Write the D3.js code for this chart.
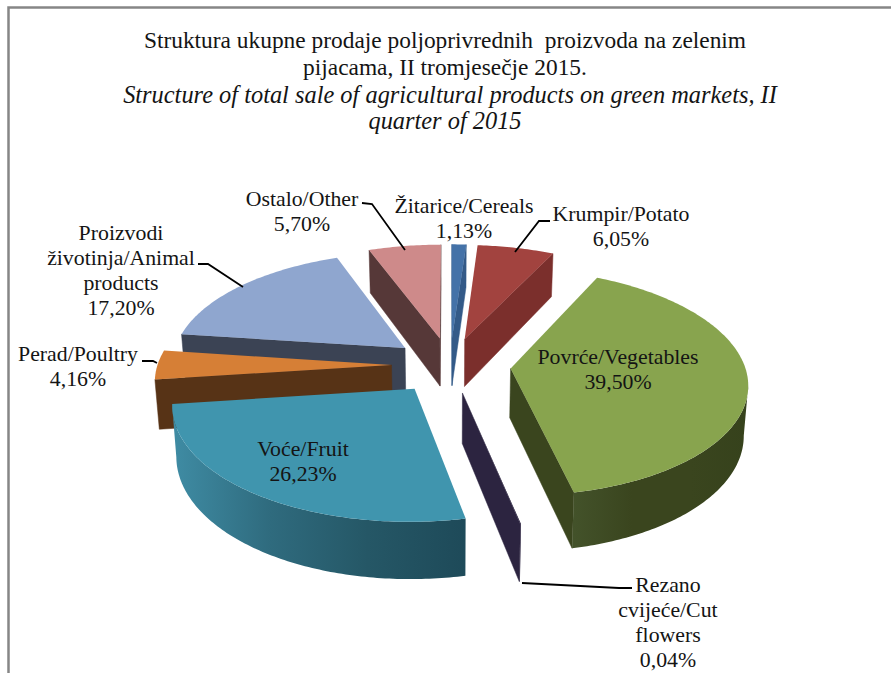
<!DOCTYPE html>
<html><head><meta charset="utf-8">
<script src="https://cdn.jsdelivr.net/npm/d3@7"></script>
<style>html,body{margin:0;padding:0;background:#fff}svg{display:block}text{font-family:"Liberation Serif",serif;fill:#141414}</style>
</head><body><svg id="c" width="891" height="673"></svg>
<script>
const categories=["Žitarice/Cereals","Krumpir/Potato","Povrće/Vegetables","Rezano cvijeće/Cut flowers","Voće/Fruit","Perad/Poultry","Proizvodi životinja/Animal products","Ostalo/Other"];
const values=[1.13,6.05,39.50,0.04,26.23,4.16,17.20,5.70];
const valueLabels=["1,13%","6,05%","39,50%","0,04%","26,23%","4,16%","17,20%","5,70%"];
const topColors=["#4472a8","#a2433f","#88a44e","#2c2440","#4095ae","#d67f36","#8fa6cf","#ce8a8a"];
const wallColors=["#335a88","#7b2f2c","#3a451e","#2c2440","#2f6b7e","#573316","#3b4354","#563838"];
const rimGradients=[null,null,["#43522a","#3a451e","#3a451e","#36421c"],null,["#3f8ca4","#2f6b7e","#255766","#1e4a59"],null,null,null];
const explodes=[0.25,0.25,0.26,0.25,0.255,0.25,0.25,0.25];
const titleLines=[["Struktura ukupne prodaje poljoprivrednih  proizvoda na zelenim",false],["pijacama, II tromjesečje 2015.",false],["Structure of total sale of agricultural products on green markets, II",true],["quarter of 2015",true]];
const labelLines=[["Žitarice/Cereals","1,13%"],["Krumpir/Potato","6,05%"],["Povrće/Vegetables","39,50%"],["Rezano","cvijeće/Cut","flowers","0,04%"],["Voće/Fruit","26,23%"],["Perad/Poultry","4,16%"],["Proizvodi","životinja/Animal","products","17,20%"],["Ostalo/Other","5,70%"]];

// layout
const labelPos=[[464,206],[621,214],[618,357],[668,585],[303,449],[78,354],[121,233],[302,199]];
const leaders=[null,[[550,221],[539,221],[515,252]],null,[[522,583],[619,588],[632,588]],null,[[142,361],[153,361],[157,363]],[[198,264],[208,264],[243,287]],[[362,203],[372,204],[405,250]]];
const cx=450,cy=365,R=234,kR=111,p=0.12,H=49,bottomShrink=0.985;

const svg=d3.select("#c");
const defs=svg.append("defs");
// frame
svg.append("path").attr("d","M891,7.5H8.5V673").attr("fill","none").attr("stroke","#868686").attr("stroke-width",2.5);

// projection via scales
const sx=d3.scaleLinear().domain([-1,1]).range([cx-R,cx+R]);
const sy=d3.scaleLinear().domain([-1,1]).range([cy-kR,cy+kR]);
function proj(X,V,down){
  const s=1/(1-p*V);
  const x=sx(X*s), y=sy(V*s);
  return down?[cx+(x-cx)*bottomShrink,y+H*s]:[x,y];
}
const pie=d3.pie().value(d=>d).sort(null).startAngle(0).endAngle(2*Math.PI);
const arcs=pie(values);
const line=d3.line();
const slices=arcs.map((a,i)=>{
  const mid=(a.startAngle+a.endAngle)/2;
  const ox=explodes[i]*Math.sin(mid), oy=-explodes[i]*Math.cos(mid);
  const rim=ang=>[ox+Math.sin(ang),oy-Math.cos(ang)];
  const n=Math.max(2,Math.ceil((a.endAngle-a.startAngle)/0.015));
  const angs=d3.range(n+1).map(j=>a.startAngle+(a.endAngle-a.startAngle)*j/n);
  return {i,mid,ox,oy,rim,angs,a};
});
slices.sort((u,v)=>u.oy-v.oy);

const cross=(a,b)=>a[0]*b[1]-a[1]*b[0];
const g=svg.append("g");
slices.forEach(sl=>{
  const i=sl.i;
  const grp=g.append("g");
  const A=proj(sl.ox,sl.oy), Ad=proj(sl.ox,sl.oy,true);
  const midP=proj(...sl.rim(sl.mid));
  // radial faces
  [sl.a.startAngle,sl.a.endAngle].forEach(ang=>{
    const r=sl.rim(ang);const P=proj(...r),Pd=proj(r[0],r[1],true);
    const e=[P[0]-A[0],P[1]-A[1]];
    const c1=cross(e,[midP[0]-A[0],midP[1]-A[1]]),c2=cross(e,[0,1]);
    if(i===3?ang===sl.a.endAngle:c1*c2<0){
      grp.append("path").attr("d",line([A,P,Pd,Ad])+"Z").attr("fill",wallColors[i]).attr("stroke",wallColors[i]).attr("stroke-width",0.5);
    }
  });
  // curved outer wall: only segments running right to left face the viewer
  const front=[];
  sl.angs.forEach((ang,j)=>{
    const r=sl.rim(ang);const P=proj(...r);
    const nxt=sl.angs[j+1]!==undefined?proj(...sl.rim(sl.angs[j+1])):null;
    const prv=j>0?proj(...sl.rim(sl.angs[j-1])):null;
    if((nxt&&nxt[0]<P[0])||(prv&&P[0]<prv[0])) front.push(r);
  });
  if(front.length>1){
    const up=front.map(r=>proj(...r)),dn=front.map(r=>proj(r[0],r[1],true)).reverse();
    let fill=wallColors[i];
    if(rimGradients[i]){
      const xs=up.map(d=>d[0]);
      const id="rim"+i;
      const lg=defs.append("linearGradient").attr("id",id).attr("gradientUnits","userSpaceOnUse")
        .attr("x1",d3.min(xs)).attr("x2",d3.max(xs)).attr("y1",0).attr("y2",0);
      rimGradients[i].forEach((c,k,arr)=>lg.append("stop").attr("offset",k/(arr.length-1)).attr("stop-color",c));
      fill=`url(#${id})`;
    }
    grp.append("path").attr("d",line(up.concat(dn))+"Z").attr("fill",fill);
  }
  // top
  const pts=[A].concat(sl.angs.map(ang=>proj(...sl.rim(ang))));
  grp.append("path").attr("d",line(pts)+"Z").attr("fill",topColors[i]);
});

// leaders
svg.append("g").selectAll("path").data(leaders.filter(Boolean)).join("path")
  .attr("d",d=>line(d)).attr("fill","none").attr("stroke","#000").attr("stroke-width",1.8);

// title
const titleY=[41,68,96,122];
const titleX=[445,445,450,445];
const titleSize=[23.4,23.4,24.4,24.4];
svg.append("g").selectAll("text").data(titleLines).join("text")
  .attr("x",(d,i)=>titleX[i]).attr("y",(d,i)=>titleY[i]+7).attr("text-anchor","middle")
  .style("font-size",(d,i)=>titleSize[i]+"px").style("white-space","pre").style("font-style",d=>d[1]?"italic":"normal").text(d=>d[0]);

// labels
const lg=svg.append("g");
labelLines.forEach((lines,i)=>{
  lines.forEach((t,j)=>{
    lg.append("text").attr("x",labelPos[i][0]).attr("y",labelPos[i][1]+j*25+7).attr("text-anchor","middle")
      .style("font-size","21.8px").text(t);
  });
});
</script></body></html>
